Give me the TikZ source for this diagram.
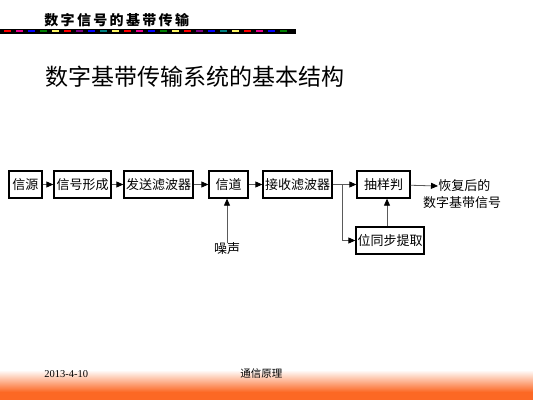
\documentclass[tikz,border=0pt]{standalone}
\usepackage{fontspec}
\setmainfont{Liberation Serif}
\newfontfamily\cjk{Noto Sans CJK SC}
\usetikzlibrary{arrows.meta}

\definecolor{footorange}{RGB}{252,104,36}
\definecolor{linegray}{RGB}{90,90,90}

\tikzset{every picture/.style={line width=0.75pt}}
\tikzset{
  box/.style={draw, line width=1.3pt, rectangle, minimum height=27pt, inner sep=1pt, font=\cjk\fontsize{13}{15}\selectfont},
  arr/.style={draw=linegray, line width=0.8pt, -{Triangle[length=7pt,width=6pt,color=black]}},
  lbl/.style={inner sep=0pt, font=\cjk\fontsize{13}{15}\selectfont}
}

\begin{document}
\begin{tikzpicture}[x=1pt,y=1pt,yscale=-1]
%set diagram frame: 533 x 400
\useasboundingbox (0,0) rectangle (533,400);

%Footer shading
\shade [top color=white, bottom color=footorange] (0,370) rectangle (533,392);
\fill [footorange] (0,392) rectangle (533,400);

%Header bar
\fill (0,28.5) rectangle (296,33.5);
\foreach \c [count=\i from 0] in {red,magenta,blue,green!50!black,yellow!60!white,red,violet,blue,teal,yellow!60!white,red,magenta,blue,green!50!black,yellow!60!white,red,violet,blue,teal,yellow!60!white,red,magenta,blue,green!50!black}
  \draw [\c, line width=1.2pt] (4+12*\i,31) -- (11+12*\i,31);

% Text Node
\node (head) [anchor=west, inner sep=0pt, font=\cjk\bfseries\fontsize{14}{16}\selectfont] at (44,20) {数\,字\,信\,号\,的\,基\,带\,传\,输};
% Text Node
\node (title) [anchor=west, inner sep=0pt, font=\cjk\fontsize{23}{26}\selectfont] at (45,77) {数字基带传输系统的基本结构};

%Blocks
\node (src)  [box, minimum width=33pt] at (25.5,184.5) {信源};
\node (form) [box, minimum width=57pt] at (82.5,184.5) {信号形成};
\node (txf)  [box, minimum width=69pt] at (158.5,184.5) {发送滤波器};
\node (chan) [box, minimum width=39pt] at (228.5,184.5) {信道};
\node (rxf)  [box, minimum width=69pt] at (297.5,184.5) {接收滤波器};
\node (samp) [box, minimum width=53pt] at (383.5,184.5) {抽样判};
\node (sync) [box, minimum width=68pt] at (390,240.5) {位同步提取};

% Text Node
\node (noise) [lbl] at (227,249) {噪声};
\node (out1) [lbl, anchor=west] at (438,186) {恢复后的};
\node (out2) [lbl] at (462,203) {数字基带信号};

%Branch point
\coordinate (br) at (342,184.5);

%Straight Lines
\draw [arr] (src) -- (form);
\draw [arr] (form) -- (txf);
\draw [arr] (txf) -- (chan);
\draw [arr] (chan) -- (rxf);
\draw [arr] (rxf) -- (samp);
\draw [arr] (br) |- (sync.west);
\draw [arr] ([xshift=-3pt]sync.north) -- ([xshift=-3pt]sync.north |- samp.south);
\draw [arr] (noise.north) -- (noise.north |- chan.south);
\draw [arr] (samp) -- (out1.west);

% Text Node
\node (date) [anchor=west, inner sep=0pt, font=\fontsize{10.5}{12}\selectfont] at (44,374) {2013-4-10};
\node (foot) [anchor=west, inner sep=0pt, font=\cjk\fontsize{10.5}{12}\selectfont] at (240,374) {通信原理};

\end{tikzpicture}
\end{document}
